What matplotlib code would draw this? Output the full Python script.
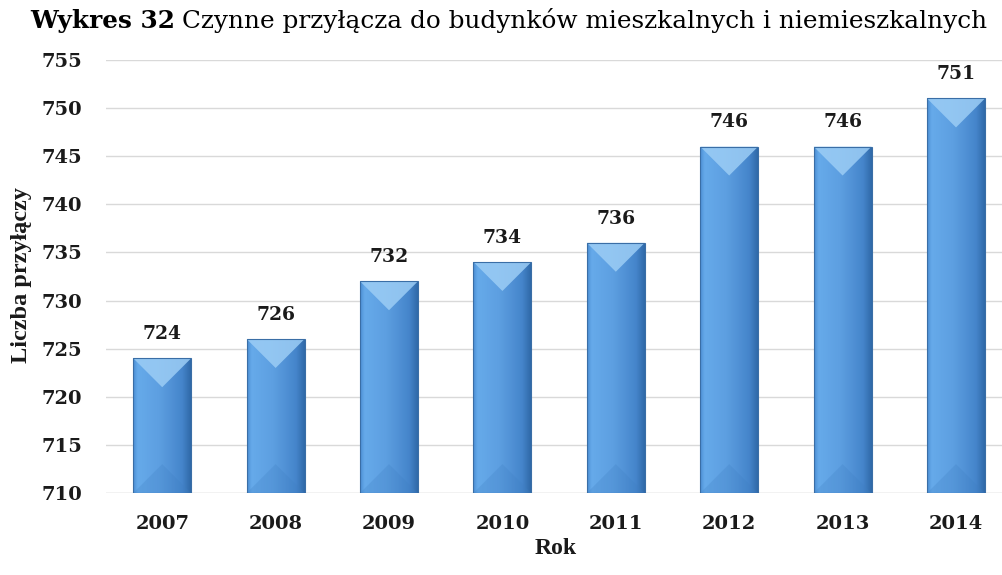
import matplotlib
matplotlib.use("Agg")
import matplotlib.pyplot as plt
import numpy as np
from matplotlib.colors import LinearSegmentedColormap
from matplotlib.patches import Polygon

years = ["2007", "2008", "2009", "2010", "2011", "2012", "2013", "2014"]
values = [724, 726, 732, 734, 736, 746, 746, 751]
y_ticks = [710, 715, 720, 725, 730, 735, 740, 745, 750, 755]
title_bold = "Wykres 32"
title_rest = "Czynne przyłącza do budynków mieszkalnych i niemieszkalnych"
x_label = "Rok"
y_label = "Liczba przyłączy"

W, H = 1002, 575
fig = plt.figure(figsize=(W / 100, H / 100), dpi=100)
ax_l, ax_r, ax_t, ax_b = 105.5, 1002, 60, 493
ax = fig.add_axes([ax_l / W, 1 - ax_b / H, (ax_r - ax_l) / W, (ax_b - ax_t) / H])

ymin, ymax = 710, 755
xmin, xmax = -0.5, -0.5 + (ax_r - ax_l) / 113.4
bw = 0.51

serif = "DejaVu Serif"
times = "Liberation Serif"

# gridlines
for t in y_ticks:
    ax.axhline(t, color="#d9d9d9" if t != ymin else "#c0c0c0", lw=1.0, zorder=0)

cmap = LinearSegmentedColormap.from_list(
    "bar", [(0.0, "#4a8dd3"), (0.08, "#66aaea"), (0.45, "#5d9fe1"),
            (0.85, "#4585cb"), (1.0, "#2f69a8")])
grad = np.linspace(0, 1, 256).reshape(1, -1)

px_per_unit = (ax_b - ax_t) / (ymax - ymin)
px_per_x = 113.4
half_px = bw / 2 * px_per_x
dy = half_px / px_per_unit

bars = ax.bar(range(len(years)), [v - ymin for v in values], bottom=ymin, width=bw,
              color="none", edgecolor="#3a6ea6", linewidth=0.8, zorder=3)
for i, (b, v) in enumerate(zip(bars, values)):
    x0, x1 = i - bw / 2, i + bw / 2
    im = ax.imshow(grad, extent=[x0, x1, ymin, v], aspect="auto", cmap=cmap,
                   zorder=2, interpolation="bicubic")
    im.set_clip_path(b)
    # top bevel (light)
    top = Polygon([(x0, v), (x1, v), (i, v - dy)], closed=True,
                  facecolor="#9ccdf5", edgecolor="none", alpha=0.85, zorder=2.5)
    ax.add_patch(top)
    # bottom bevel (darker)
    bot = Polygon([(x0, ymin), (x1, ymin), (i, ymin + dy)], closed=True,
                  facecolor="#3f7fc3", edgecolor="none", alpha=0.25, zorder=2.5)
    ax.add_patch(bot)
    ax.annotate(str(v), (i, v), xytext=(0, 11), textcoords="offset points",
                ha="center", va="bottom", fontsize=13.5, fontweight="bold",
                family=serif, color="#1a1a1a")

ax.set_xlim(xmin, xmax)
ax.set_ylim(ymin, ymax)
ax.set_xticks(range(len(years)))
ax.set_xticklabels(years)
ax.set_yticks(y_ticks)
for s in ax.spines.values():
    s.set_visible(False)
ax.tick_params(length=0)
ax.tick_params(axis="y", pad=17)
ax.tick_params(axis="x", pad=16)
for lbl in ax.get_xticklabels() + ax.get_yticklabels():
    lbl.set_family(serif)
    lbl.set_fontweight("bold")
    lbl.set_fontsize(14)
    lbl.set_color("#1a1a1a")

fig.text(556 / W, 1 - 548 / H, x_label, ha="center", va="center",
         family=times, fontweight="bold", fontsize=17, color="#1a1a1a")
fig.text(22 / W, 1 - 275 / H, y_label, ha="center", va="center", rotation=90,
         family=times, fontweight="bold", fontsize=17.5, color="#1a1a1a")

# title: bold part + regular part
fig.canvas.draw()
r = fig.canvas.get_renderer()
ty = 1 - 28 / H
tfs = 17.8
t1 = fig.text(30 / W, ty, title_bold, ha="left", va="baseline", family=serif,
              fontweight="bold", fontsize=tfs, color="#000000")
bb = t1.get_window_extent(renderer=r)
space = tfs * 0.3 * 100 / 72
fig.text((bb.x1 + space) / W, ty, title_rest, ha="left", va="baseline",
         family=serif, fontsize=tfs, color="#000000")

fig.savefig("out.png", dpi=100)
